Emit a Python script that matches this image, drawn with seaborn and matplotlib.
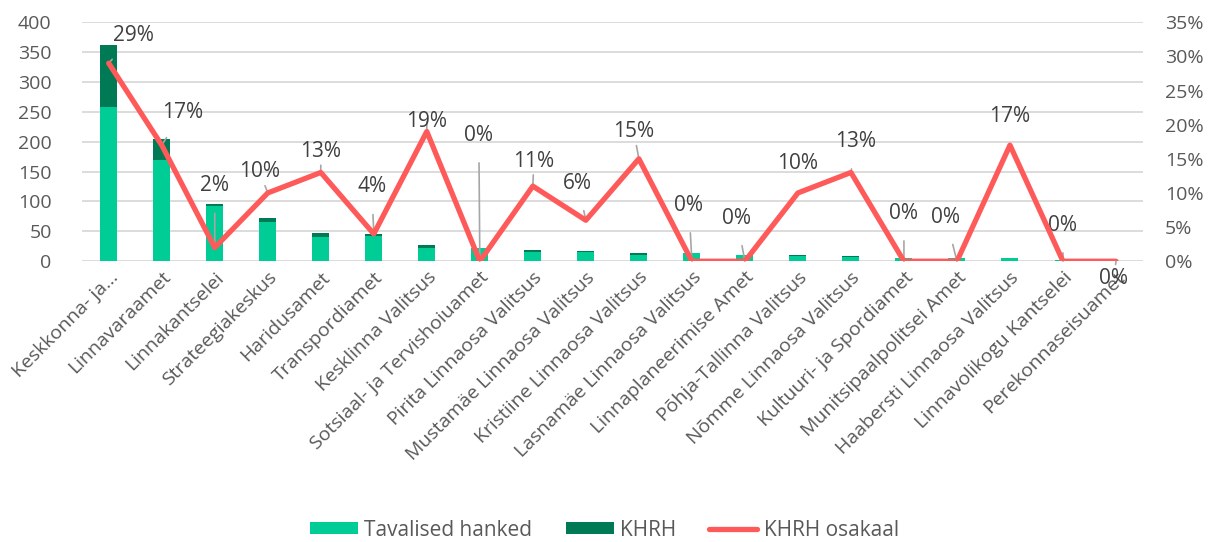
import matplotlib
matplotlib.use("Agg")
import matplotlib.pyplot as plt
import seaborn as sns
import numpy as np
import pandas as pd
from matplotlib.patches import Patch
from matplotlib.lines import Line2D
from matplotlib.ticker import PercentFormatter, MultipleLocator

# --- data ---
categories = [
    "Keskkonna- ja...", "Linnavaraamet", "Linnakantselei", "Strateegiakeskus",
    "Haridusamet", "Transpordiamet", "Kesklinna Valitsus",
    "Sotsiaal- ja Tervishoiuamet", "Pirita Linnaosa Valitsus",
    "Mustamäe Linnaosa Valitsus", "Kristiine Linnaosa Valitsus",
    "Lasnamäe Linnaosa Valitsus", "Linnaplaneerimise Amet",
    "Põhja-Tallinna Valitsus", "Nõmme Linnaosa Valitsus",
    "Kultuuri- ja Spordiamet", "Munitsipaalpolitsei Amet",
    "Haabersti Linnaosa Valitsus", "Linnavolikogu Kantselei",
    "Perekonnaseisuamet",
]
tavalised = [258, 170, 93, 65, 41, 43, 22, 23, 16, 16, 11, 13, 10, 9, 7, 6, 5, 5, 2, 0]
khrh = [104, 35, 2, 7, 6, 2, 5, 0, 2, 1, 2, 0, 0, 1, 1, 0, 0, 1, 0, 0]
osakaal = [0.29, 0.17, 0.02, 0.10, 0.13, 0.04, 0.19, 0.0, 0.11, 0.06,
           0.15, 0.0, 0.0, 0.10, 0.13, 0.0, 0.0, 0.17, 0.0, 0.0]

# label offsets (pixels) for the Excel-style data labels
label_offsets = [(25, 28), (21, 33), (0, 62), (-8, 21), (0, 21), (-2, 47),
                 (0, 10), (-1, 126), (1, 25), (-8, 37), (-5, 27), (-3, 56),
                 (-8, 43), (0, 29), (5, 31), (0, 48), (-11, 44), (0, 29),
                 (0, 36), (-2, -17)]

light_green = "#00CC96"
dark_green = "#007A55"
red = "#FF5A5A"
grey_text = "#595959"

df = pd.DataFrame({"cat": categories, "tav": tavalised, "khrh": khrh,
                   "osakaal": osakaal})
df["total"] = df["tav"] + df["khrh"]

sns.set_style("white")
plt.rcParams["font.family"] = ["Open Sans", "DejaVu Sans"]

fig = plt.figure(figsize=(12.09, 5.42), dpi=100)
ax = fig.add_axes([0.068, 0.518, 0.877, 0.441])

# stacked bars: total in dark green, regular on top in light green
sns.barplot(data=df, x="cat", y="total", color=dark_green, width=0.32,
            saturation=1, linewidth=0, ax=ax, zorder=2)
sns.barplot(data=df, x="cat", y="tav", color=light_green, width=0.32,
            saturation=1, linewidth=0, ax=ax, zorder=3)

ax.set_ylim(0, 400)
ax.yaxis.set_major_locator(MultipleLocator(50))
ax.set_xlim(-0.5, len(categories) - 0.5)
ax.grid(axis="y", color="#D9D9D9", linewidth=1.3, zorder=0)
ax.set_axisbelow(True)
for s in ax.spines.values():
    s.set_visible(False)
ax.set_xlabel("")
ax.set_ylabel("")
ax.tick_params(axis="y", length=0, pad=22, labelsize=14, labelcolor=grey_text)
ax.tick_params(axis="x", length=0, pad=5, labelsize=14, labelcolor=grey_text)
ax.set_xticks(range(len(categories)))
ax.set_xticklabels(categories, rotation=45, ha="right", rotation_mode="anchor")

# share of KHRH on the right axis
ax2 = ax.twinx()
x_idx = np.arange(len(categories))
sns.lineplot(x=x_idx, y=df["osakaal"], ax=ax2, color=red, linewidth=3.8,
             sort=False, zorder=4)
ax2.set_ylim(0, 0.35)
ax2.yaxis.set_major_locator(MultipleLocator(0.05))
ax2.yaxis.set_major_formatter(PercentFormatter(1.0, decimals=0))
ax2.tick_params(axis="y", length=0, pad=16, labelsize=14, labelcolor=grey_text)
ax2.set_ylabel("")
for s in ax2.spines.values():
    s.set_visible(False)
ax2.grid(False)

for i, (v, off) in enumerate(zip(osakaal, label_offsets)):
    ax2.annotate(f"{v:.0%}", xy=(i, v), xytext=off, textcoords="offset pixels",
                 ha="center", va="center", fontsize=15, color="#404040",
                 arrowprops=dict(arrowstyle="-", color="#A6A6A6", lw=1.2,
                                 shrinkA=10, shrinkB=0))

handles = [
    Patch(facecolor=light_green, edgecolor="none"),
    Patch(facecolor=dark_green, edgecolor="none"),
    Line2D([0], [0], color=red, linewidth=3.8),
]
fig.legend(handles, ["Tavalised hanked", "KHRH", "KHRH osakaal"],
           loc="center", bbox_to_anchor=(0.5, 0.022), ncol=3, frameon=False,
           fontsize=15, labelcolor=grey_text, handlelength=2.3,
           handleheight=0.5, handletextpad=0.3, columnspacing=1.6)

fig.savefig("out.png", dpi=100)
plt.close(fig)
